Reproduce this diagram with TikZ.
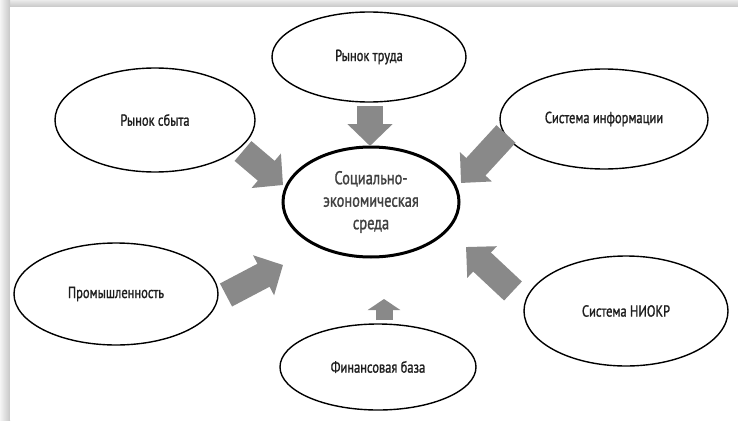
\documentclass[tikz,border=0pt]{standalone}
\usepackage{fontspec}
\setmainfont{PT Sans}[FakeStretch=0.78, FakeBold=1.2]
\usetikzlibrary{shapes.geometric,arrows.meta}
\definecolor{arrowgray}{HTML}{898989}
\definecolor{inkgray}{HTML}{1E1E1E}
\tikzset{
  factor/.style={ellipse, draw=black, line width=1.4pt, inner sep=0pt,
    font=\fontsize{16}{18}\selectfont, align=center, text=inkgray},
  core/.style={ellipse, draw=black, line width=3pt, inner sep=0pt,
    font=\fontsize{18.5}{22.5}\selectfont, align=center, text=black!75},
  blockarrow/.style={draw=arrowgray, line cap=butt, line width=#1},
  blockarrow/.default=26pt
}
\begin{document}
\begin{tikzpicture}[x=1pt,y=-1pt]
  % page and its soft frame edges
  \useasboundingbox (0,0) rectangle (738,420);
  \fill[white] (0,0) rectangle (738,420);
  \shade[top color=black!8, bottom color=black!22] (0,0) rectangle (738,7);
  \shade[left color=black!4, right color=black!22] (0,0) rectangle (10,420);
  \fill[white] (10,7) rectangle (738,420);

  % central node
  \node[core, minimum width=176pt, minimum height=110pt] (env) at (371,202)
    {Социально-\\экономическая\\среда};

  % surrounding factors
  \node[factor, minimum width=194pt, minimum height=90pt] (labour) at (369,57) {Рынок труда};
  \node[factor, minimum width=200pt, minimum height=104pt] (sales) at (155,120) {Рынок сбыта};
  \node[factor, minimum width=208pt, minimum height=100pt] (info) at (604,119) {Система информации};
  \node[factor, minimum width=204pt, minimum height=102pt] (industry) at (116,294) {Промышленность};
  \node[factor, minimum width=204pt, minimum height=110pt] (rnd) at (626,311) {Система НИОКР};
  \node[factor, minimum width=196pt, minimum height=86pt] (finance) at (378,367) {Финансовая база};

  % ends of the block arrows
  \coordinate (labourA) at (370,106);  \coordinate (labourB) at (370,146);
  \coordinate (salesA)  at (243,151);  \coordinate (salesB)  at (283,185);
  \coordinate (infoA)   at (506,134);  \coordinate (infoB)   at (461,183);
  \coordinate (indA)    at (226,295);  \coordinate (indB)    at (283,265);
  \coordinate (rndA)    at (513,291);  \coordinate (rndB)    at (466,247);
  \coordinate (finA)    at (384,320);  \coordinate (finB)    at (384,299);

  % block arrows towards the centre
  \draw[blockarrow, -{Triangle[width=44pt,length=22pt]}] (labourA) -- (labourB);
  \draw[blockarrow, -{Triangle[width=44pt,length=22pt]}] (salesA) -- (salesB);
  \draw[blockarrow, -{Triangle[width=42pt,length=22pt]}] (infoA) -- (infoB);
  \draw[blockarrow, -{Triangle[width=44pt,length=22pt]}] (indA) -- (indB);
  \draw[blockarrow, -{Triangle[width=42pt,length=22pt]}] (rndA) -- (rndB);
  \draw[blockarrow=17pt, -{Triangle[width=32pt,length=11pt]}] (finA) -- (finB);
\end{tikzpicture}
\end{document}
